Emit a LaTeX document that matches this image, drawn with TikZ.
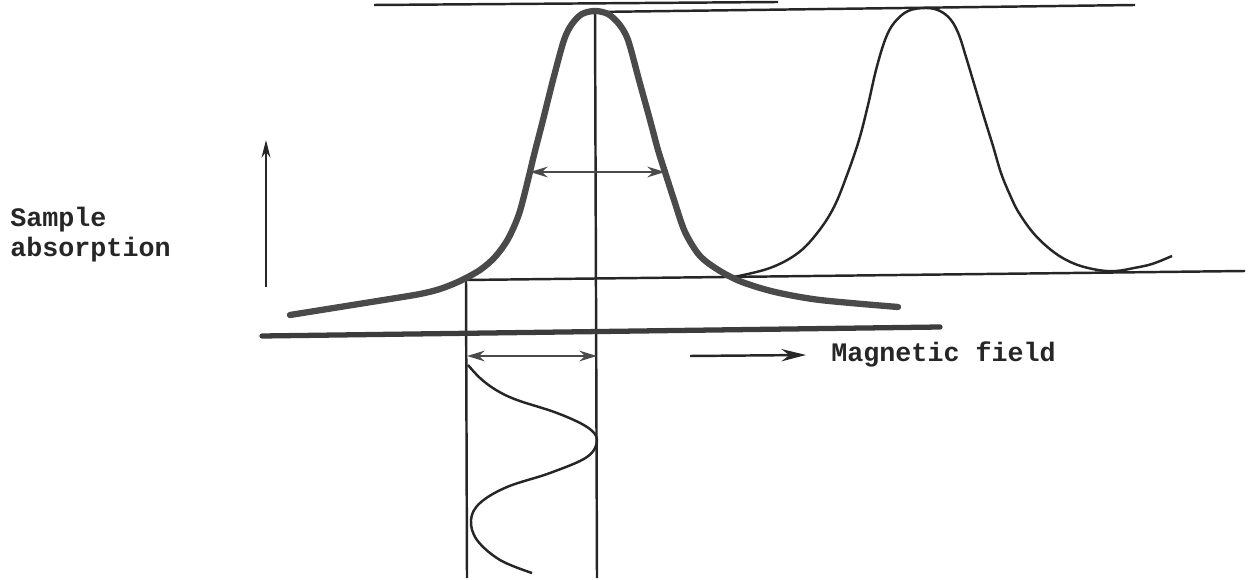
\documentclass[tikz,border=0pt]{standalone}
\usepackage{fontspec}
\setmonofont{Liberation Mono}
\usetikzlibrary{arrows.meta}
\definecolor{ink}{HTML}{262626}
\definecolor{thickink}{HTML}{4A4A4A}
\begin{document}
\begin{tikzpicture}[x=0.02cm,y=-0.02cm,
  thin line/.style={draw=ink,line width=1.4pt},
  heavy/.style={draw=thickink,line width=3.6pt,line cap=round,line join=round},
  axisline/.style={draw=ink!90,line width=3pt,line cap=round},
  dimarrow/.style={draw=thickink,line width=1.5pt,{Stealth[length=10pt,width=6pt]}-{Stealth[length=10pt,width=6pt]}},
  lbl/.style={font=\ttfamily\bfseries\fontsize{15.2}{17}\selectfont,text=ink,inner sep=0pt}]
\useasboundingbox (0,0) rectangle (1250,580);
% named coordinates
\coordinate (tlA) at (374,5);
\coordinate (tlB) at (778,2);
\coordinate (topA) at (595,12);
\coordinate (topB) at (1135,5);
\coordinate (baseA) at (466,280);
\coordinate (baseB) at (1245,271);
\coordinate (axA) at (262,336);
\coordinate (axB) at (940,327);
\coordinate (vcTop) at (595,12);
\coordinate (vcBot) at (597,578);
\coordinate (vlBot) at (467,578);
\coordinate (upBot) at (266,287);
\coordinate (upTop) at (266,140);
\coordinate (hwL) at (530,172);
\coordinate (hwR) at (665,172);
\coordinate (lwL) at (467,356);
\coordinate (lwR) at (597,356);
\coordinate (mfA) at (690,356);
\coordinate (mfB) at (806,355);
% lines
\draw[thin line] (tlA) -- (tlB);
\draw[thin line] (topA) -- (topB);
\draw[thin line] (baseA) -- (baseB);
\draw[thin line] (vcTop) -- (vcBot);
\draw[thin line] (baseA) -- (vlBot);
\draw[axisline] (axA) -- (axB);
% vertical arrow
\draw[thin line,-{Stealth[length=10pt,width=5pt]}] (upBot) -- (upTop);
% second peak (thin)
\draw[thin line] plot[smooth,tension=0.6] coordinates {
 (734,277) (770,268) (798,253) (818,232) (834,207) (847,175) (859,140) (868,105) (876,70) (885,40) (894,23) (908,11) (926,8) (940,11) (951,20) (959,35) (966,57) (975,87) (984,117) (993,146) (1001,173) (1010,195) (1019,213) (1035,235) (1055,253) (1075,264) (1098,270) (1116,271) (1134,268) (1152,264) (1172,256)};
% main peak (thick)
\draw[heavy] plot[smooth,tension=0.5] coordinates {
 (290,315) (340,307) (390,299) (420,294) (440,289) (460,281) (480,270) (495,257) (508,239) (519,214) (528,180) (534,155) (543,120) (553,80) (564,40) (572,24) (582,14) (595,11) (608,14) (619,24) (628,40) (639,80) (650,120) (658,150) (665,172) (674,200) (685,232) (700,256) (720,271) (742,282) (775,292) (820,300) (898,307)};
% width arrows
\draw[dimarrow] (hwL) -- (hwR);
\draw[dimarrow] (lwL) -- (lwR);
% lower sine
\draw[thin line] plot[smooth,tension=0.6] coordinates {
 (468,365) (480,378) (496,390) (517,400) (557,413) (587,427) (597,440) (587,457) (550,473) (507,487) (480,503) (471,520) (477,540) (500,560) (532,573)};
% magnetic field arrow
\draw[thin line,-{Stealth[length=14pt,width=7pt]}] (mfA) -- (mfB);
% labels
\node[lbl,anchor=base west] (s1) at (10,227) {Sample};
\node[lbl,anchor=base west] (s2) at (10,257) {absorption};
\node[lbl,anchor=base west] (mf) at (831,362) {Magnetic field};
\end{tikzpicture}
\end{document}
